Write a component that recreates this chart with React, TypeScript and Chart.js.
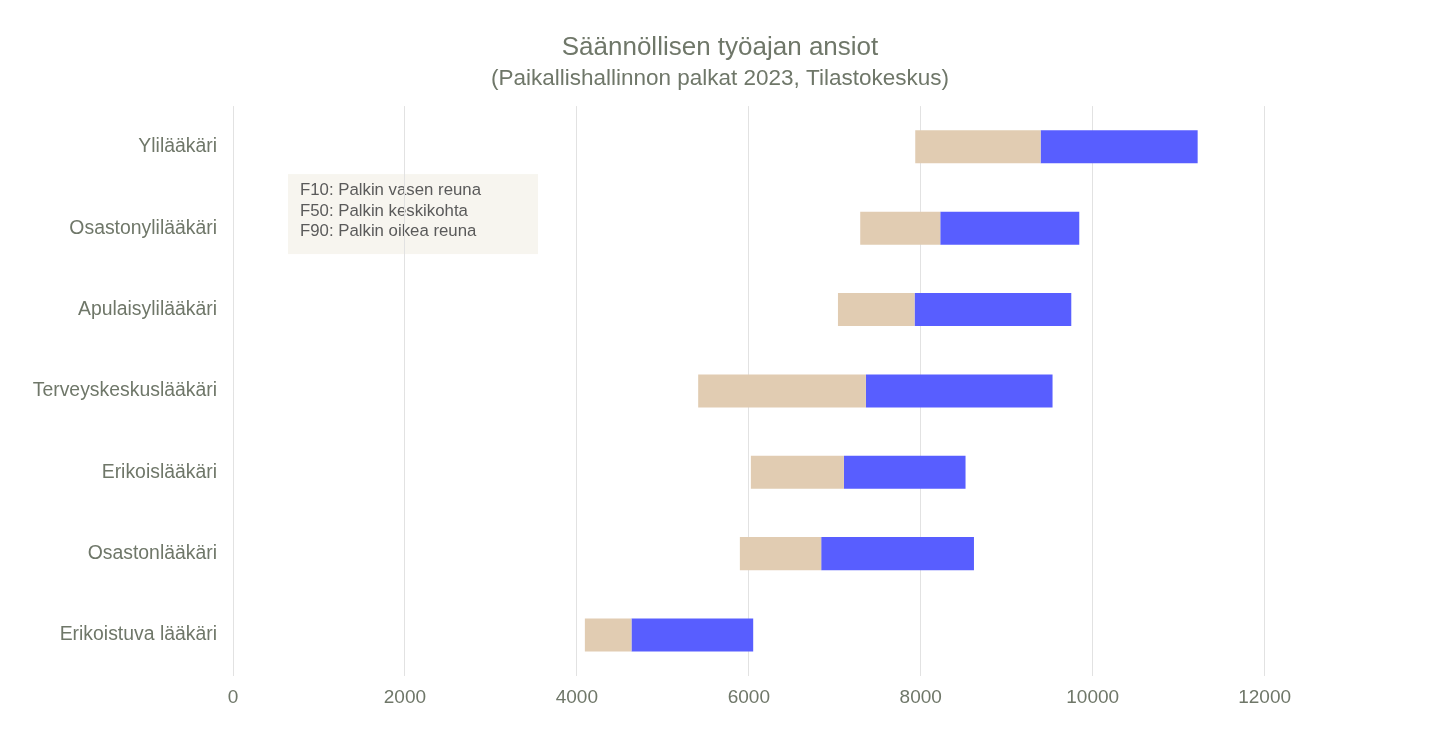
import React, { useEffect, useRef } from "react";
import { Chart, registerables } from "chart.js";

Chart.register(...registerables);

const categories = [
  "Ylilääkäri",
  "Osastonylilääkäri",
  "Apulaisylilääkäri",
  "Terveyskeskuslääkäri",
  "Erikoislääkäri",
  "Osastonlääkäri",
  "Erikoistuva lääkäri",
];
const f10 = [7936, 7296, 7037, 5411, 6024, 5896, 4093];
const f50 = [9394, 8227, 7928, 7362, 7106, 6842, 4635];
const f90 = [11221, 9844, 9751, 9533, 8521, 8619, 6051];
const titleText = "Säännöllisen työajan ansiot";
const subtitleText = "(Paikallishallinnon palkat 2023, Tilastokeskus)";
const noteLines = [
  "F10: Palkin vasen reuna",
  "F50: Palkin keskikohta",
  "F90: Palkin oikea reuna",
];
const tickValues = [0, 2000, 4000, 6000, 8000, 10000, 12000];
const xMax = 14040;

const FONT = "'Liberation Sans', Arial, sans-serif";
const TEXT = "#6f7769";

const notePlugin = {
  id: "noteBox",
  beforeDraw(chart: any) {
    const { ctx, chartArea } = chart;
    const x = chartArea.left + 55;
    const y = chartArea.top + 68;
    ctx.save();
    ctx.fillStyle = "#f7f5ef";
    ctx.fillRect(x, y, 250, 80);
    ctx.fillStyle = "#5a5a5a";
    ctx.font = `16.8px ${FONT}`;
    ctx.textBaseline = "middle";
    noteLines.forEach((t, i) => ctx.fillText(t, x + 12, y + 16.5 + i * 20.5));
    ctx.restore();
  },
};

export default function App() {
  const ref = useRef<HTMLCanvasElement>(null);
  useEffect(() => {
    const chart = new Chart(ref.current!, {
      type: "bar",
      data: {
        labels: categories,
        datasets: [
          {
            label: "F10–F50",
            data: categories.map((_, i) => [f10[i], f50[i]]) as any,
            backgroundColor: "rgb(225,204,178)",
            borderWidth: 0,
            borderSkipped: false,
          },
          {
            label: "F50–F90",
            data: categories.map((_, i) => [f50[i], f90[i]]) as any,
            backgroundColor: "rgb(88,94,255)",
            borderWidth: 0,
            borderSkipped: false,
          },
        ],
      },
      plugins: [notePlugin],
      options: {
        indexAxis: "y",
        animation: false,
        responsive: false,
        maintainAspectRatio: false,
        layout: { padding: { left: 0, right: 0, top: 0, bottom: 0 } },
        datasets: {
          bar: { grouped: false, categoryPercentage: 0.406, barPercentage: 1 },
        },
        plugins: {
          legend: { display: false },
          tooltip: { enabled: false },
          title: {
            display: true,
            text: titleText,
            color: TEXT,
            font: { family: FONT, size: 26, weight: "normal" },
            padding: { top: 32.4, bottom: 2 },
          },
          subtitle: {
            display: true,
            text: subtitleText,
            color: TEXT,
            font: { family: FONT, size: 22.5, weight: "normal" },
            padding: { top: 0, bottom: 13.5 },
          },
        },
        scales: {
          x: {
            type: "linear",
            min: 0,
            max: xMax,
            border: { display: false },
            afterBuildTicks: (s: any) => {
              s.ticks = tickValues.map((v) => ({ value: v }));
            },
            grid: {
              color: "#e2e2e2",
              drawTicks: false,
            },
            ticks: {
              color: TEXT,
              padding: 11,
              font: { family: FONT, size: 19 },
              callback: (v: any) => String(v),
            },
            afterFit: (s: any) => {
              s.height = 78.3;
            },
          },
          y: {
            border: { display: false },
            grid: { display: false, drawTicks: false },
            ticks: {
              color: TEXT,
              padding: 16,
              font: { family: FONT, size: 19.4 },
            },
            afterFit: (s: any) => {
              s.width = 233;
            },
          },
        },
      },
    } as any);
    return () => chart.destroy();
  }, []);
  return (
    <div style={{ position: "fixed", left: 0, top: 0, width: 1440, height: 754, background: "#fff" }}>
      <canvas ref={ref} width={1440} height={754} style={{ display: "block" }} />
    </div>
  );
}
